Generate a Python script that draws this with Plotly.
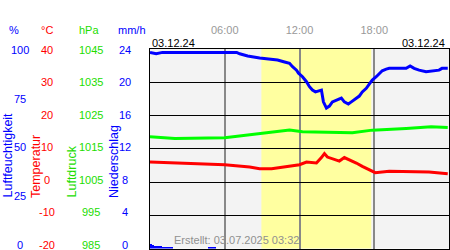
import plotly.graph_objects as go

# ---------------- data ----------------
hum_t = [0.0, 0.5, 1.0, 6.96, 7.2, 7.84, 8.8, 10.24, 10.8, 11.2, 11.44, 11.76, 11.92, 12.24, 12.56,
         12.8, 13.04, 13.28, 13.76, 13.92, 14.16, 14.4, 14.64, 14.96, 15.36, 15.6, 15.92, 16.16,
         16.56, 16.8, 17.04, 17.36, 17.6, 17.84, 18.16, 18.4, 18.64, 18.96, 19.2, 20.56, 20.88,
         21.2, 21.6, 22.16, 22.64, 23.2, 23.44, 23.9]
hum_v = [98.3, 97.6, 98.3, 98.3, 97.6, 96.5, 95.5, 94.5, 93.5, 92.8, 91.1, 89.4, 87.9, 86.1, 83.6,
         81.1, 79.4, 78.5, 79.4, 73.5, 70.4, 71.4, 73.5, 74.4, 75.4, 73.5, 72.4, 73.5,
         75.4, 76.4, 78.5, 80.3, 82.4, 84.4, 86.1, 87.8, 89.1, 89.9, 90.3, 90.3, 91.5,
         90.3, 89.4, 88.6, 89.1, 89.4, 90.3, 90.3]

temp_t = [0.0, 3.2, 6.0, 8.0, 8.8, 9.76, 11.2, 12.0, 12.56, 13.36, 13.76, 14.0, 14.24, 14.64,
          15.2, 15.6, 16.16, 16.56, 17.04, 17.6, 18.08, 19.2, 22.4, 23.9]
temp_v = [6.0, 5.5, 5.2, 4.5, 4.0, 4.0, 4.8, 5.2, 6.0, 5.7, 7.35, 8.55, 7.5, 7.0,
          6.3, 7.35, 6.5, 5.7, 4.7, 3.7, 2.8, 3.2, 3.0, 2.5]

press_t = [0.0, 2.0, 6.0, 8.8, 11.2, 12.24, 14.64, 16.24, 17.84, 19.2, 20.56, 22.56, 23.9]
press_v = [1018.6, 1018.1, 1018.3, 1019.6, 1020.6, 1020.1, 1019.8, 1019.8, 1020.6, 1020.8,
           1021.1, 1021.6, 1021.4]

rain_t = [0.083, 0.25, 0.417, 0.583, 0.75, 0.917, 1.083, 1.25, 1.417, 1.583, 1.75,
          4.75, 4.917, 5.083, 5.25]
rain_v = [0.5, 0.45, 0.3, 0.25, 0.25, 0.25, 0.2, 0.15, 0.15, 0.1, 0.1,
          0.15, 0.2, 0.2, 0.15]

day_start, day_end = 8.94, 17.76

hum_ticks = [0, 25, 50, 75, 100]
temp_ticks = [-20, -10, 0, 10, 20, 30, 40]
press_ticks = [985, 995, 1005, 1015, 1025, 1035, 1045]
rain_ticks = [0, 4, 8, 12, 16, 20, 24]
time_ticks = [6, 12, 18]
time_labels = ["06:00", "12:00", "18:00"]
date_label = "03.12.24"
created = "Erstellt: 03.07.2025 03:32"

# ---------------- figure ----------------
W, H = 450, 250
FONT = "Liberation Sans, Arial, sans-serif"
BLUE, RED, GREEN = "#0000ff", "#ff0000", "#00ff00"
GREEN_TXT = "#22dd00"

fig = go.Figure()
fig.add_trace(go.Bar(x=rain_t, y=rain_v, width=1 / 6, marker=dict(color=BLUE, line=dict(width=0)),
                     yaxis="y4", showlegend=False))
fig.add_trace(go.Scatter(x=press_t, y=press_v, mode="lines", line=dict(color=GREEN, width=3),
                         yaxis="y3", showlegend=False))
fig.add_trace(go.Scatter(x=temp_t, y=temp_v, mode="lines", line=dict(color=RED, width=3),
                         yaxis="y", showlegend=False))
fig.add_trace(go.Scatter(x=hum_t, y=hum_v, mode="lines", line=dict(color=BLUE, width=3),
                         yaxis="y2", showlegend=False))

ydom = [1.5 / H, 1 - 49 / H]
hidden = dict(overlaying="y", visible=False, fixedrange=True, automargin=False)

fig.update_layout(
    width=W, height=H,
    margin=dict(l=0, r=0, t=0, b=0, autoexpand=False),
    paper_bgcolor="white", plot_bgcolor="#f3f3f3",
    font=dict(family=FONT, size=11),
    showlegend=False, bargap=0,
    xaxis=dict(domain=[150 / W, 449 / W], range=[0, 24], side="top",
               tickvals=time_ticks, ticktext=time_labels, ticks="",
               tickfont=dict(color="#999999", size=11), ticklabelstandoff=10,
               showgrid=True, gridcolor="#888888", gridwidth=1.5,
               showline=True, mirror=True, linecolor="black", linewidth=1,
               zeroline=False, fixedrange=True, automargin=False),
    yaxis=dict(domain=ydom, range=[-20, 40], tickvals=temp_ticks, showticklabels=False, ticks="",
               showgrid=True, gridcolor="black", gridwidth=1,
               showline=True, mirror=True, linecolor="black", linewidth=1,
               zeroline=False, fixedrange=True, automargin=False),
    yaxis2=dict(range=[0, 100], **hidden),
    yaxis3=dict(range=[985, 1045], **hidden),
    yaxis4=dict(range=[0, 24], **hidden),
)

fig.add_shape(type="rect", xref="x", yref="paper", x0=day_start, x1=day_end,
              y0=ydom[0], y1=ydom[1], fillcolor="#ffffa0", line=dict(width=0), layer="below")

ann = []
def tick_labels(vals, yref, xpx, color):
    lo, hi = min(vals), max(vals)
    for v in vals:
        ann.append(dict(x=xpx / W, xref="paper", y=v, yref=yref, text=str(v), showarrow=False,
                        xanchor="center", yanchor="middle",
                        yshift=-1 + 5 * (hi - v) / (hi - lo),
                        font=dict(color=color, size=11, family=FONT)))

tick_labels(hum_ticks, "y2", 20, BLUE)
tick_labels(temp_ticks, "y", 47, RED)
tick_labels(press_ticks, "y3", 91, GREEN_TXT)
tick_labels(rain_ticks, "y4", 124.5, BLUE)

for txt, xpx, col in [("%", 14, BLUE), ("°C", 47, RED), ("hPa", 89, GREEN_TXT), ("mm/h", 132, BLUE)]:
    ann.append(dict(x=xpx / W, y=1 - 30 / H, xref="paper", yref="paper", text=txt, showarrow=False,
                    xanchor="center", yanchor="middle", font=dict(color=col, size=11, family=FONT)))

for txt, xpx, col in [("Luftfeuchtigkeit", 7, BLUE), ("Temperatur", 35.5, RED),
                      ("Luftdruck", 71.5, GREEN_TXT), ("Niederschlag", 113.5, BLUE)]:
    ann.append(dict(x=xpx / W, y=1 - 200 / H, xref="paper", yref="paper", text=txt, showarrow=False,
                    textangle=-90, xanchor="center", yanchor="bottom",
                    font=dict(color=col, size=12.5, family=FONT)))

ann.append(dict(x=150 / W, y=1 - 43 / H, xref="paper", yref="paper", text=date_label, showarrow=False,
                xanchor="left", yanchor="middle", font=dict(color="black", size=11, family=FONT)))
ann.append(dict(x=447 / W, y=1 - 43 / H, xref="paper", yref="paper", text=date_label, showarrow=False,
                xanchor="right", yanchor="middle", font=dict(color="black", size=11, family=FONT)))
ann.append(dict(x=236 / W, y=1 - 240 / H, xref="paper", yref="paper", text=created, showarrow=False,
                xanchor="center", yanchor="middle", font=dict(color="#909090", size=11, family=FONT)))

fig.update_layout(annotations=ann)
fig.write_html("out.html")
